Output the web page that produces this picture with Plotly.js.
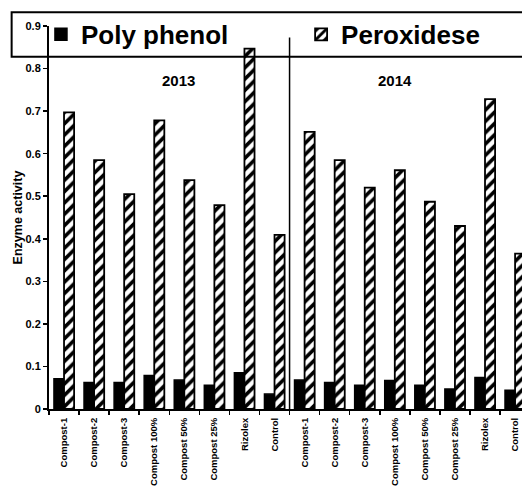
<!DOCTYPE html>
<html>
<head>
<meta charset="utf-8">
<script src="https://cdn.plot.ly/plotly-3.0.1.min.js"></script>
<style>html,body{margin:0;padding:0;background:#fff}#chart{width:522px;height:490px}</style>
</head>
<body>
<div id="chart"></div>
<script>
// Data
var treatments = ["Compost-1","Compost-2","Compost-3","Compost 100%","Compost 50%","Compost 25%","Rizolex","Control",
                  "Compost-1","Compost-2","Compost-3","Compost 100%","Compost 50%","Compost 25%","Rizolex","Control"];
var years = ["2013","2014"];
var polyPhenol = [0.071,0.062,0.062,0.079,0.068,0.056,0.085,0.035,
                  0.068,0.062,0.056,0.067,0.056,0.047,0.074,0.044];
var peroxidese = [0.697,0.585,0.505,0.678,0.538,0.479,0.847,0.409,
                  0.651,0.585,0.520,0.561,0.487,0.430,0.728,0.365];
var yTicks = [0,0.1,0.2,0.3,0.4,0.5,0.6,0.7,0.8,0.9];
var yTickText = ["0","0.1","0.2","0.3","0.4","0.5","0.6","0.7","0.8","0.9"];

var xpos = treatments.map(function(_, i){ return i; });
var FONT = "Liberation Sans, Arial, sans-serif";
var legendFont = {family: FONT, size: 26, weight: "bold", color: "#000000"};

var traces = [
  {
    type: "bar", name: "Poly phenol", x: xpos, y: polyPhenol, legend: "legend",
    marker: {color: "#000000", line: {color: "#000000", width: 1.5}}
  },
  {
    type: "bar", name: "Peroxidese", x: xpos, y: peroxidese, legend: "legend2",
    marker: {
      color: "#ffffff",
      line: {color: "#000000", width: 1.8},
      pattern: {shape: "/", fgcolor: "#000000", bgcolor: "#ffffff", size: 8, solidity: 0.45}
    }
  }
];

var layout = {
  width: 522, height: 490,
  margin: {l: 49, r: 0, t: 26, b: 81, pad: 0, autoexpand: false},
  paper_bgcolor: "#ffffff", plot_bgcolor: "rgba(0,0,0,0)",
  font: {family: FONT, color: "#000000", weight: "bold"},
  barmode: "group", bargap: 0.33, bargroupgap: 0,
  showlegend: true,
  legend: {
    orientation: "h", x: -0.017, xanchor: "left", y: 0.978, yanchor: "middle",
    bgcolor: "rgba(0,0,0,0)", borderwidth: 0, font: legendFont
  },
  legend2: {
    orientation: "h", x: 0.533, xanchor: "left", y: 0.978, yanchor: "middle",
    bgcolor: "rgba(0,0,0,0)", borderwidth: 0, font: legendFont
  },
  xaxis: {
    range: [-0.5, 15.23], tickmode: "array", tickvals: xpos, ticktext: treatments,
    tickangle: -90, ticks: "", showgrid: false, zeroline: false,
    showline: true, linecolor: "#000000", linewidth: 2,
    tickfont: {family: FONT, size: 9.5, weight: "bold", color: "#000000"},
    ticklabelstandoff: 3,
    minor: {tickmode: "linear", tick0: -0.5, dtick: 1, ticks: "outside", ticklen: 4, tickwidth: 1.5, tickcolor: "#000000", showgrid: false}
  },
  yaxis: {
    range: [0, 0.9], tickmode: "array", tickvals: yTicks, ticktext: yTickText,
    ticks: "outside", ticklen: 4, tickwidth: 1.5, tickcolor: "#000000",
    showline: true, linecolor: "#000000", linewidth: 2,
    showgrid: false, zeroline: false,
    tickfont: {family: FONT, size: 11, weight: "bold", color: "#000000"},
    title: {text: "Enzyme activity", standoff: 0, font: {family: FONT, size: 12.5, weight: "bold", color: "#000000"}}
  },
  shapes: [
    {type: "rect", xref: "paper", yref: "paper", x0: -0.079, x1: 1.05, y0: 0.9195, y1: 1.036,
     line: {color: "#000000", width: 2}, fillcolor: "rgba(0,0,0,0)", layer: "above"},
    {type: "line", xref: "x", yref: "y", x0: 7.5, x1: 7.5, y0: 0, y1: 0.873,
     line: {color: "#000000", width: 1.5}}
  ],
  annotations: [
    {text: years[0], x: 3.8, y: 0.772, xref: "x", yref: "y", showarrow: false,
     font: {family: FONT, size: 15, weight: "bold", color: "#000000"}},
    {text: years[1], x: 11, y: 0.772, xref: "x", yref: "y", showarrow: false,
     font: {family: FONT, size: 15, weight: "bold", color: "#000000"}}
  ]
};

Plotly.newPlot("chart", traces, layout, {displayModeBar: false, staticPlot: true});
</script>
</body>
</html>
